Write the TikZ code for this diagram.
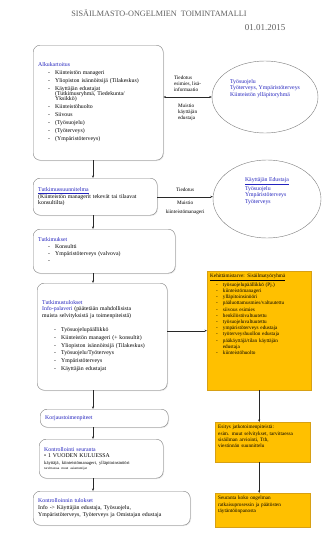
\documentclass[tikz,border=0pt]{standalone}
\usepackage{fontspec}
\setmainfont{Liberation Serif}
\usepackage{xcolor}
\definecolor{StageBorder}{RGB}{125,125,125}
\definecolor{StageBlue}{RGB}{35,35,190}
\definecolor{AmberFill}{RGB}{255,192,0}
\definecolor{AmberBorder}{RGB}{215,160,20}
\definecolor{HeadGray}{RGB}{95,95,95}
\definecolor{LinkColor}{RGB}{40,40,40}
\usetikzlibrary{positioning,arrows.meta,shapes.geometric,shadows}
\newcommand{\boxfont}{\fontsize{5.8}{6.6}\selectfont}
\newcommand{\amberfont}{\fontsize{5.2}{6.2}\selectfont}
\newcommand{\btitle}[1]{\textcolor{StageBlue}{#1}}
\newcommand{\dashlist}[3]{{\renewcommand{\arraystretch}{#2}\begin{tabular}[t]{@{\hspace{#1}}l@{\hspace{5pt}}l@{}}#3\end{tabular}}}
\tikzset{
  % rounded stage box
  stage/.style={
    draw=StageBorder,
    fill=white,
    rounded corners=7pt,
    anchor=north west,
    align=left,
    inner xsep=5pt,
    inner ysep=2pt,
    font=\boxfont,
    drop shadow={opacity=0.2, shadow xshift=0.8pt, shadow yshift=-0.8pt}
  },
  % amber box on the right
  amber/.style={
    draw=AmberBorder,
    fill=AmberFill,
    anchor=north west,
    align=left,
    inner xsep=3pt,
    inner ysep=3pt,
    font=\amberfont,
    drop shadow={opacity=0.2, shadow xshift=0.8pt, shadow yshift=-0.8pt}
  },
  % ellipse of informed parties
  party/.style={ellipse, draw=StageBorder, fill=white, align=left, font=\boxfont, text=StageBlue, inner sep=0pt},
  % connectors
  link/.style={draw=LinkColor, line width=0.4pt, -{Stealth[length=2.5pt,width=2pt]}},
  twoway/.style={draw=LinkColor, line width=0.4pt, {Stealth[length=2.5pt,width=2pt]}-{Stealth[length=2.5pt,width=2pt]}},
  linklabel/.style={font=\fontsize{5.2}{6}\selectfont, align=left, inner sep=1pt}
}
\begin{document}
\begin{tikzpicture}[x=1pt,y=-1pt]
  \useasboundingbox (0,0) rectangle (322,533);
  % heading
  \node[font=\fontsize{8.2}{9}\selectfont, text=HeadGray] (head) at (159,13) {SISÄILMASTO-ONGELMIEN\ \ TOIMINTAMALLI};
  \node[font=\fontsize{9}{10}\selectfont, text=HeadGray, anchor=east] (date) at (289,28) {01.01.2015};
  \coordinate (spine) at (93,0);
  % left column
  \node[stage, text width=120pt, minimum height=115pt] (alku) at (33,45) {%
    \btitle{Alkukartoitus}\\[1pt]
    \dashlist{10pt}{1.2}{%
      - & Kiinteistön manageri\\
      - & Yliopiston isännöitsijä (Tilakeskus)\\
      - & Käyttäjän edustajat\\[-2.5pt]
        & (Tutkimusryhmä, Tiedekunta/\\[-2.5pt]
        & Yksikkö)\\
      - & Kiinteistöhuolto\\
      - & Siivous\\
      - & (Työsuojelu)\\
      - & (Työterveys)\\
      - & (Ympäristöterveys)}};
  \node[stage, text width=114pt, minimum height=37pt] (suunnitelma) at (33,178) {%
    \btitle{\underline{Tutkimussuunnitelma}}\\
    (Kiinteistön managerit tekevät tai tilaavat\\
    konsultilta)};
  \node[stage, text width=132pt, minimum height=44pt] (tutkimukset) at (33,229) {%
    \btitle{Tutkimukset}\\
    \dashlist{10pt}{1.1}{%
      - & Konsultti\\
      - & Ympäristöterveys (valvova)\\
      - & }};
  \node[stage, text width=120pt, minimum height=107pt] (tulokset) at (37,283) {%
    \btitle{Tutkimustulokset}\\
    \btitle{Info-palaveri} (päätetään mahdollisista\\
    muista selvityksistä ja toimenpiteistä)\\[6pt]
    \dashlist{12pt}{1.2}{%
      - & Työsuojelupäällikkö\\
      - & Kiinteistön manageri (+ konsultit)\\
      - & Yliopiston isännöitsijä (Tilakeskus)\\
      - & Työsuojelu/Työterveys\\
      - & Ympäristöterveys\\
      - & Käyttäjän edustajat}};
  \node[stage, text width=118pt, minimum height=18pt] (korjaus) at (40,409) {%
    \btitle{Korjaustoimenpiteet}};
  \node[stage, text width=114pt, minimum height=39pt] (kontrolli) at (39,439) {%
    \btitle{Kontrollointi seuranta}\\
    \textbullet\ 1 VUODEN KULUESSA\\
    {\fontsize{4.6}{5.2}\selectfont käyttäjä, kiinteistömanageri, ylläpitoinsinööri}\\[-1.5pt]
    {\fontsize{3.4}{3.8}\selectfont tarvittaessa muut asiantuntijat}};
  \node[stage, text width=147pt, minimum height=34pt] (kontrollitulos) at (33,491) {%
    \btitle{Kontrolloinnin tulokset}\\
    Info -> Käyttäjän edustaja, Työsuojelu,\\
    Ympäristöterveys, Työterveys ja Omistajan edustaja};
  % ellipses
  \node[party, minimum width=106pt, minimum height=72pt] (tiedotettavat) at (265,97) {%
    Työsuojelu\\
    Työterveys, Ympäristöterveys\\
    Kiinteistön ylläpitoryhmä\\[12pt]\mbox{}};
  \node[party, minimum width=108pt, minimum height=78pt] (kayttaja) at (267,199) {%
    \underline{Käyttäjän Edustaja}\\
    Työsuojelu\\
    Ympäristöterveys\\
    Työterveys\\[10pt]\mbox{}};
  % right column
  \node[amber, text width=98pt] (ryhma) at (207,271) {\parbox[c][113pt][t]{\linewidth}{%
    \underline{Kehittämistarve: Sisäilmatyöryhmä}\\
    \dashlist{6pt}{1.0}{%
      - & työsuojelupäällikkö (Pj.)\\
      - & kiinteistömanageri\\
      - & ylläpitoinsinööri\\
      - & pääluottamusmies/valtuutettu\\
      - & siivous esimies\\
      - & henkilöstövaltuutettu\\
      - & työsuojeluvaltuutettu\\
      - & ympäristöterveys edustaja\\
      - & työterveyshuollon edustaja\\
      - & pääkäyttäjä/tilan käyttäjän\\
        & edustaja\\
      - & kiinteistöhuolto}}};
  \node[amber, text width=89pt] (esitys) at (215,422) {\parbox[c][34pt][t]{\linewidth}{%
    Esitys jatkotoimenpiteistä:\\
    esim. muut selvitykset, tarvittaessa\\
    sisäilman arviointi, Tth,\\
    viestinnän suunnittelu}};
  \node[amber, text width=89pt] (seuranta) at (215,493) {\parbox[c][28pt][t]{\linewidth}{%
    Seuranta koko ongelman\\
    ratkaisuprosessin ja päätösten\\
    täytäntöönpanosta}};
  % connectors
  \draw[twoway] (alku.east |- tiedotettavat.west) --
    node[linklabel, above=4pt] {Tiedotus\\esimies, lisä-\\informaatio}
    node[linklabel, below=6pt] {Muistio\\käyttäjän\\edustaja} (tiedotettavat.west);
  \draw[link] (suunnitelma.east) --
    node[linklabel, above=4pt] {Tiedotus}
    node[linklabel, align=center, below=3pt] {Muistio\\[3pt]kiinteistömanageri} (suunnitelma.east -| kayttaja.west);
  \draw[link] (tulokset.east |- ryhma.west) -- (ryhma.west);
  \draw[link] (alku.south -| spine) -- (suunnitelma.north -| spine);
  \draw[link] (suunnitelma.south -| spine) -- (tutkimukset.north -| spine);
  \draw[link] (tutkimukset.south -| spine) -- (tulokset.north -| spine);
  \draw[link] (tulokset.south -| spine) -- (korjaus.north -| spine);
  \draw[link] (korjaus.south -| spine) -- (kontrolli.north -| spine);
  \draw[link] (kontrolli.south -| spine) -- (kontrollitulos.north -| spine);
  \draw[link] (ryhma.south) -- (ryhma.south |- esitys.north);
  \draw[link] (esitys.south -| ryhma.south) -- (seuranta.north -| ryhma.south);
\end{tikzpicture}
\end{document}
